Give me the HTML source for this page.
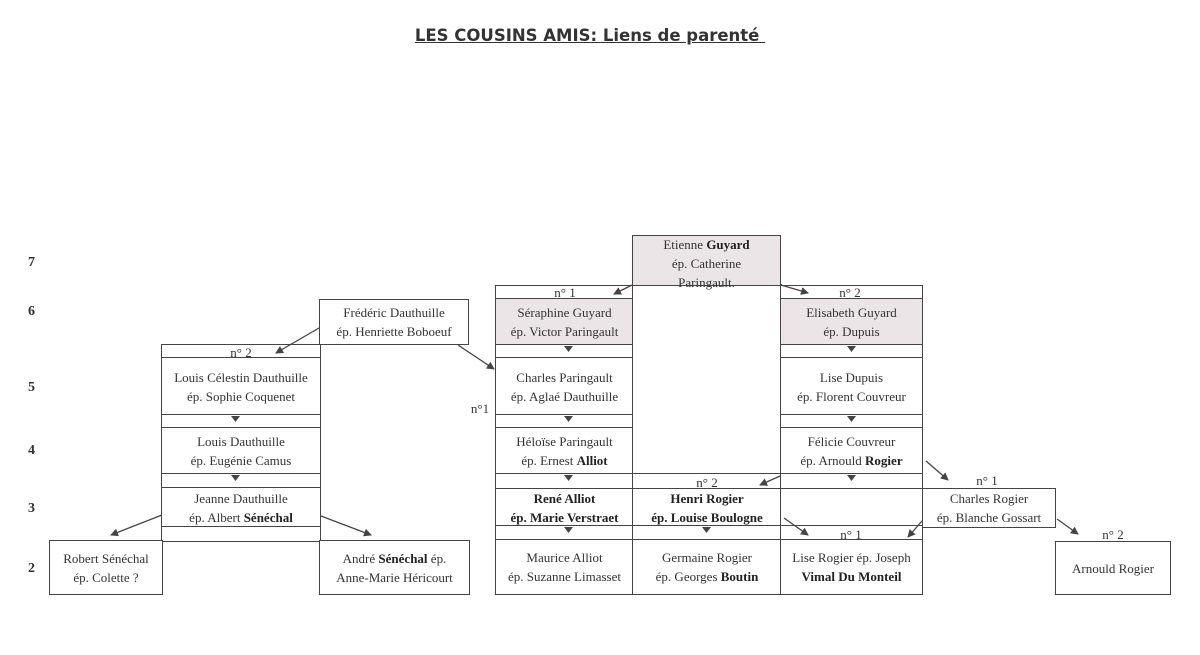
<!DOCTYPE html>
<html><head><meta charset="utf-8"><style>
body{margin:0;width:1200px;height:655px;background:#fff;position:relative;overflow:hidden;font-family:"Liberation Serif",serif;color:#333}
.b{position:absolute;box-sizing:border-box;border:1.5px solid #444;display:flex;align-items:center;justify-content:center;text-align:center;font-size:13px;line-height:19px;background:#fff}
.b>span{display:block}
.g{background:#ebe5e8}
.s{position:absolute;font-size:13px;text-align:center;line-height:13px}
.r{position:absolute;left:28px;font-size:14px;font-weight:bold;color:#333}
b{color:#222}
.t{position:absolute;left:0;width:1180px;top:26px;text-align:center;font-family:"DejaVu Sans",sans-serif;font-size:16.5px;font-weight:bold;color:#333}
</style></head><body>
<div class="t"><span style="text-decoration:underline">LES COUSINS AMIS: Liens de parenté&nbsp;</span></div>
<div class="r" style="top:255px">7</div>
<div class="r" style="top:304px">6</div>
<div class="r" style="top:380px">5</div>
<div class="r" style="top:443px">4</div>
<div class="r" style="top:501px">3</div>
<div class="r" style="top:561px">2</div>

<div class="b" style="left:495px;top:285px;width:139px;height:15px"></div>
<div class="b g" style="left:495px;top:298px;width:139px;height:48px"><span>Séraphine Guyard<br>ép. Victor Paringault</span></div>
<div class="b" style="left:495px;top:344px;width:139px;height:15px"></div>
<div class="b" style="left:495px;top:357px;width:139px;height:59px"><span>Charles Paringault<br>ép. Aglaé Dauthuille</span></div>
<div class="b" style="left:495px;top:414px;width:139px;height:15px"></div>
<div class="b" style="left:495px;top:427px;width:139px;height:48px"><span>Héloïse Paringault<br>ép. Ernest <b>Alliot</b></span></div>
<div class="b" style="left:495px;top:473px;width:139px;height:17px"></div>
<div class="b" style="left:495px;top:488px;width:139px;height:39px;font-weight:bold;color:#222"><span>René Alliot<br>ép. Marie Verstraet</span></div>
<div class="b" style="left:495px;top:525px;width:139px;height:16px"></div>
<div class="b" style="left:495px;top:539px;width:139px;height:56px"><span>Maurice Alliot<br>ép. Suzanne Limasset</span></div>

<div class="b" style="left:632px;top:284px;width:150px;height:191px;border-top:none"></div>
<div class="b g" style="left:632px;top:235px;width:149px;height:51px;line-height:19px;align-items:flex-start;padding-top:0"><span style="margin-top:-1px">Etienne <b>Guyard</b><br>ép. Catherine<br>Paringault.</span></div>
<div class="b" style="left:632px;top:473px;width:150px;height:17px"></div>
<div class="b" style="left:632px;top:488px;width:150px;height:39px;font-weight:bold;color:#222"><span>Henri Rogier<br>ép. Louise Boulogne</span></div>
<div class="b" style="left:632px;top:525px;width:150px;height:16px"></div>
<div class="b" style="left:632px;top:539px;width:150px;height:56px"><span>Germaine Rogier<br>ép. Georges <b>Boutin</b></span></div>

<div class="b" style="left:780px;top:285px;width:143px;height:15px"></div>
<div class="b g" style="left:780px;top:298px;width:143px;height:48px"><span>Elisabeth Guyard<br>ép. Dupuis</span></div>
<div class="b" style="left:780px;top:344px;width:143px;height:15px"></div>
<div class="b" style="left:780px;top:357px;width:143px;height:59px"><span>Lise Dupuis<br>ép. Florent Couvreur</span></div>
<div class="b" style="left:780px;top:414px;width:143px;height:15px"></div>
<div class="b" style="left:780px;top:427px;width:143px;height:48px"><span>Félicie Couvreur<br>ép. Arnould <b>Rogier</b></span></div>
<div class="b" style="left:780px;top:473px;width:143px;height:17px"></div>
<div class="b" style="left:780px;top:488px;width:143px;height:39px"></div>
<div class="b" style="left:780px;top:525px;width:143px;height:16px"></div>
<div class="b" style="left:780px;top:539px;width:143px;height:56px"><span>Lise Rogier ép. Joseph<br><b>Vimal Du Monteil</b></span></div>

<div class="b" style="left:319px;top:299px;width:150px;height:46px"><span>Frédéric Dauthuille<br>ép. Henriette Boboeuf</span></div>
<div class="b" style="left:161px;top:344px;width:160px;height:15px"></div>
<div class="b" style="left:161px;top:357px;width:160px;height:59px"><span>Louis Célestin Dauthuille<br>ép. Sophie Coquenet</span></div>
<div class="b" style="left:161px;top:414px;width:160px;height:15px"></div>
<div class="b" style="left:161px;top:427px;width:160px;height:48px"><span>Louis Dauthuille<br>ép. Eugénie Camus</span></div>
<div class="b" style="left:161px;top:473px;width:160px;height:16px"></div>
<div class="b" style="left:161px;top:487px;width:160px;height:41px"><span>Jeanne Dauthuille<br>ép. Albert <b>Sénéchal</b></span></div>
<div class="b" style="left:161px;top:526px;width:160px;height:16px"></div>
<div class="b" style="left:49px;top:540px;width:114px;height:55px"><span>Robert Sénéchal<br>ép. Colette ?</span></div>
<div class="b" style="left:319px;top:540px;width:151px;height:55px"><span>André <b>Sénéchal</b> ép.<br>Anne-Marie Héricourt</span></div>

<div class="b" style="left:922px;top:488px;width:134px;height:40px"><span>Charles Rogier<br>ép. Blanche Gossart</span></div>
<div class="b" style="left:1055px;top:541px;width:116px;height:54px"><span>Arnould Rogier</span></div>

<div class="s" style="left:540px;top:286px;width:50px">n° 1</div>
<div class="s" style="left:825px;top:286px;width:50px">n° 2</div>
<div class="s" style="left:216px;top:346px;width:50px">n° 2</div>
<div class="s" style="left:682px;top:476px;width:50px">n° 2</div>
<div class="s" style="left:826px;top:528px;width:50px">n° 1</div>
<div class="s" style="left:962px;top:474px;width:50px">n° 1</div>
<div class="s" style="left:1088px;top:528px;width:50px">n° 2</div>
<div class="s" style="left:470px;top:402px;width:20px">n°1</div>

<svg width="1200" height="655" style="position:absolute;left:0;top:0" xmlns="http://www.w3.org/2000/svg">
<defs><marker id="a" markerWidth="8" markerHeight="8" refX="7" refY="4" orient="auto" markerUnits="userSpaceOnUse"><path d="M0,0 L8,4 L0,8z" fill="#444"/></marker></defs>
<g stroke="#444" stroke-width="1.3" fill="none" marker-end="url(#a)">
<line x1="632" y1="285" x2="614" y2="294"/>
<line x1="781" y1="285" x2="808" y2="293"/>
<line x1="319" y1="328" x2="276" y2="353"/>
<line x1="458" y1="345" x2="494" y2="369"/>
<line x1="926" y1="461" x2="948" y2="480"/>
<line x1="780" y1="476" x2="760" y2="485"/>
<line x1="784" y1="518" x2="808" y2="535"/>
<line x1="922" y1="521" x2="908" y2="537"/>
<line x1="1057" y1="519" x2="1078" y2="534"/>
<line x1="162" y1="515" x2="111" y2="535"/>
<line x1="321" y1="516" x2="371" y2="535"/>
</g>
<g fill="#444">
<path d="M564,346 h9 l-4.5,6z"/><path d="M564,416 h9 l-4.5,6z"/><path d="M564,475 h9 l-4.5,6z"/><path d="M564,527 h9 l-4.5,6z"/>
<path d="M702,527 h9 l-4.5,6z"/>
<path d="M847,346 h9 l-4.5,6z"/><path d="M847,416 h9 l-4.5,6z"/><path d="M847,475 h9 l-4.5,6z"/>
<path d="M231,416 h9 l-4.5,6z"/><path d="M231,475 h9 l-4.5,6z"/>
</g>
</svg>
</body></html>
